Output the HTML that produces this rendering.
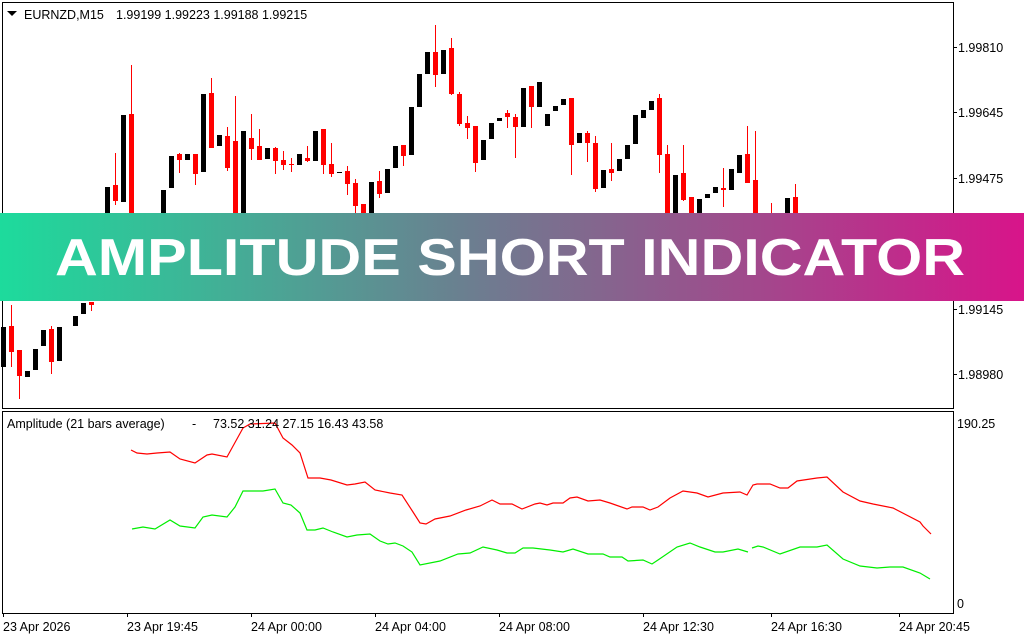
<!DOCTYPE html>
<html><head><meta charset="utf-8"><style>
html,body{margin:0;padding:0;background:#fff;}
svg{display:block;font-family:"Liberation Sans",sans-serif;}
</style></head><body>
<svg id="s" width="1024" height="640" viewBox="0 0 1024 640" xmlns="http://www.w3.org/2000/svg">
<defs>
<linearGradient id="g" x1="0" x2="1" y1="0" y2="0">
<stop offset="0" stop-color="#1ddb9c"/>
<stop offset="0.45" stop-color="#6a8090"/>
<stop offset="0.75" stop-color="#a4468c"/>
<stop offset="1" stop-color="#d8148a"/>
</linearGradient>
</defs>
<rect x="0" y="0" width="1024" height="640" fill="#fff"/>
<rect x="2.5" y="2.5" width="951" height="406" fill="none" stroke="#000"/>
<rect x="2.5" y="411.5" width="951" height="202" fill="none" stroke="#000"/>
<g id="candles"></g>
<polyline fill="none" stroke="#f00" stroke-width="1.2" points="131,450 137,453 147,454 157,453 170,452 180,459 195,463 207,455 212,454 227,457 243,428 250,424 275,423 283,438 292,445 300,453 308,478 320,478 331,480 347,485 355,484 365,482 375,490 390,493 402,495 413,512 420,523 426,524 435,519 450,516 466,510 480,506 492,500 500,504 512,504 522,509 535,504 540,503 547,505 553,503 563,503 570,498 577,497 588,501 600,500 610,503 627,509 632,507 643,507 650,510 658,507 670,498 683,491 697,493 708,497 723,493 740,492 747,495 753,485 757,484 770,484 780,488 788,488 797,481 817,478 827,477 843,492 860,501 873,504 893,508 920,522 923,526 931,534"/>
<polyline fill="none" stroke="#0e0" stroke-width="1.2" points="132,529 143,527 155,529 170,520 180,526 195,528 203,517 212,515 227,517 235,507 243,491 263,491 275,489 283,503 291,505 300,513 307,530 315,530 323,528 333,532 347,537 357,535 370,534 380,541 388,544 395,543 403,546 412,552 420,565 440,561 458,554 470,553 483,547 497,550 507,553 515,553 523,548 533,548 550,550 563,552 573,549 588,554 603,554 610,557 622,557 628,561 643,560 652,564 658,560 677,547 690,543 700,547 715,552 723,552 738,549 748,552"/>
<polyline fill="none" stroke="#0e0" stroke-width="1.2" points="752,548 758,546 763,547 780,554 800,547 817,547 827,545 843,559 860,566 877,568 890,567 903,567 920,573 930,579"/>
<g font-size="12.5" fill="#000">
<path d="M7 11 h10 l-5 5z" fill="#000"/>
<text x="24" y="19">EURNZD,M15</text>
<text x="116" y="19">1.99199 1.99223 1.99188 1.99215</text>
<text x="7" y="428">Amplitude (21 bars average)</text>
<text x="192" y="428">-</text>
<text x="213" y="428">73.52 31.24 27.15 16.43 43.58</text>
<text x="958" y="52">1.99810</text>
<text x="958" y="117">1.99645</text>
<text x="958" y="183">1.99475</text>
<text x="958" y="314">1.99145</text>
<text x="958" y="379">1.98980</text>
<text x="957" y="428">190.25</text>
<text x="957" y="608">0</text>
<text x="3" y="631">23 Apr 2026</text>
<text x="127" y="631">23 Apr 19:45</text>
<text x="251" y="631">24 Apr 00:00</text>
<text x="375" y="631">24 Apr 04:00</text>
<text x="499" y="631">24 Apr 08:00</text>
<text x="643" y="631">24 Apr 12:30</text>
<text x="771" y="631">24 Apr 16:30</text>
<text x="899" y="631">24 Apr 20:45</text>
</g>
<g stroke="#000" stroke-width="1">
<path d="M953 47.5h4M953 112.5h4M953 178.5h4M953 309.5h4M953 374.5h4"/>
<path d="M3.5 613v4M127.5 613v4M251.5 613v4M375.5 613v4M499.5 613v4M643.5 613v4M771.5 613v4M899.5 613v4"/>
</g>
<rect x="0" y="213" width="1024" height="88" fill="url(#g)"/>
<text x="510" y="275" text-anchor="middle" font-size="52" font-weight="bold" fill="#fff" textLength="910" lengthAdjust="spacingAndGlyphs">AMPLITUDE SHORT INDICATOR</text>
</svg>
<script>
var C=[
[3,0,327,367,327,367],[11,1,326,352,305,367],[19,1,350,376,350,399],[27,0,371,377,371,377],[35,0,349,370,349,370],[43,0,330,346,330,346],[51,1,329,362,326,374],[59,0,327,361,327,361],[75,0,316,326,316,326],[83,0,303,314,303,314],[91,1,302,305,302,311],
[107,0,187,230,187,230],[115,1,185,201,153,205],[123,0,115,202,115,202],[131,1,114,230,65,230],[163,0,190,230,190,230],[171,0,156,188,156,188],[179,1,154,160,153,173],[187,0,154,160,154,160],[195,1,154,174,154,185],[203,0,94,172,94,172],[211,1,93,148,78,148],[219,0,135,146,135,146],[227,1,136,168,127,171],[235,1,141,230,96,230],[243,0,131,230,131,230],[251,1,138,149,114,160],[259,1,146,160,129,160],[267,0,148,159,148,159],[275,1,148,161,147,174],[283,1,160,165,151,170],[291,1,164,165,158,172],[299,0,154,165,154,165],[307,1,158,161,146,162],[315,0,131,161,131,161],[323,1,129,165,129,174],[331,1,164,174,143,177],[339,0,172,173,172,173],[347,1,171,184,166,195],[355,1,183,206,179,214],[363,1,204,230,204,230],[371,0,182,230,182,230],[379,1,181,194,171,198],[387,0,169,193,169,193],[395,0,146,168,146,168],[403,1,145,156,145,166],[411,0,107,155,107,155],[419,0,74,107,74,107],[427,0,52,74,52,74],[435,1,52,75,25,87],[443,0,50,74,50,74],[451,1,48,94,38,95],[459,1,94,124,92,126],[467,1,123,128,116,139],[475,1,126,163,126,172],[483,0,140,160,140,160],[491,0,123,139,123,139],[499,0,118,121,118,121],[507,1,113,117,110,128],[515,1,117,127,114,158],
[523,0,88,127,88,127],[531,1,86,107,86,128],[539,0,82,107,82,107],[547,0,114,126,114,126],[555,0,106,111,106,111],[563,0,99,105,99,105],[571,1,98,145,98,175],[579,0,133,143,133,143],[587,1,133,143,131,162],[595,1,143,189,136,192],[603,0,170,188,170,188],[611,1,169,173,143,181],[619,0,159,171,159,171],[627,0,145,159,145,159],[635,0,115,144,115,144],[643,0,110,118,110,118],[651,0,101,110,101,110],[659,1,98,155,94,173],[667,1,154,230,145,230],[675,0,175,230,175,230],[683,1,173,200,145,201],[691,1,197,230,197,230],[699,0,199,213,199,213],[707,0,194,198,194,198],[715,0,187,193,187,193],[723,1,188,190,168,207],[731,0,169,190,169,190],[739,0,155,173,155,173],[747,1,154,183,126,183],[755,1,180,230,131,230],[771,1,213,230,203,230],[787,0,198,230,198,230],[795,1,197,230,184,230]];
var g=document.getElementById('candles'),h='';
C.forEach(function(c){var col=c[1]?'#f00':'#000';
h+='<rect x="'+c[0]+'" y="'+c[4]+'" width="1" height="'+Math.max(1,c[5]-c[4])+'" fill="'+col+'"/>';
h+='<rect x="'+(c[0]-2)+'" y="'+c[2]+'" width="5" height="'+Math.max(1,c[3]-c[2])+'" fill="'+col+'"/>';});
g.innerHTML=h;
</script>
</body></html>
